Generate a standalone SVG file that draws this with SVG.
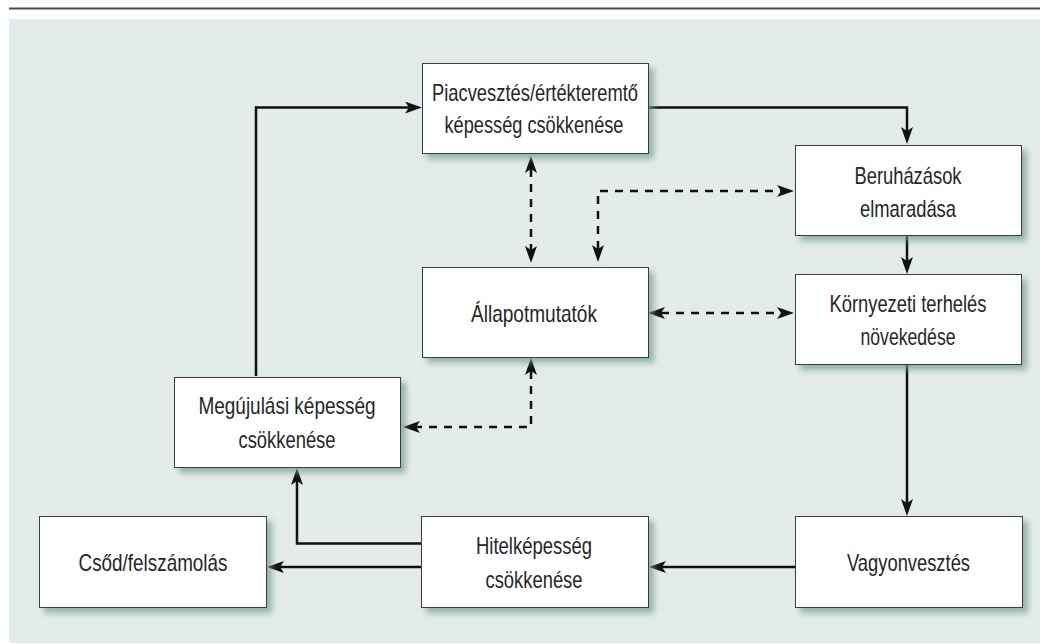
<svg xmlns="http://www.w3.org/2000/svg" width="1040" height="644" viewBox="0 0 1040 644">
  <defs>
    <style>
      .box { fill: #ffffff; stroke: #3c3c3c; stroke-width: 1; filter: url(#shadow); }
      .lbl { font-family: "Liberation Sans", Arial, sans-serif; font-size: 24px; fill: #262626; text-anchor: middle; }
      .solid { fill: none; stroke: #111111; stroke-width: 2.5; stroke-linejoin: miter; }
      .dash { fill: none; stroke: #111111; stroke-width: 2.5; stroke-dasharray: 8 7; stroke-linejoin: miter; }
    </style>
    <filter id="shadow" x="-10%" y="-15%" width="130%" height="150%">
      <feGaussianBlur in="SourceAlpha" stdDeviation="3"/>
      <feOffset dx="5" dy="5" result="blur"/>
      <feFlood flood-color="#6f998c" flood-opacity="0.7"/>
      <feComposite in2="blur" operator="in"/>
      <feMerge>
        <feMergeNode/>
        <feMergeNode in="SourceGraphic"/>
      </feMerge>
    </filter>
    <!-- swept-back arrowhead; the line ends at the notch, the tip lies 13px further on -->
    <marker id="arrow" viewBox="0 0 17 12" refX="4" refY="6" markerWidth="17" markerHeight="12" markerUnits="userSpaceOnUse" orient="auto-start-reverse">
      <path d="M0,0 L17,6 L0,12 L4,6 Z" fill="#111111"/>
    </marker>
  </defs>

  <!-- page rule and panel -->
  <rect x="9" y="7.5" width="1031" height="2" fill="#4d4d4d"/>
  <rect x="9" y="19" width="1031" height="624" fill="#e4ece8"/>

  <!-- connectors -->
  <g id="connectors">
    <path class="solid" d="M256,376 V107.5 H409" marker-end="url(#arrow)"/>
    <path class="solid" d="M648,107.5 H907 V131" marker-end="url(#arrow)"/>
    <path class="solid" d="M907,235 V261" marker-end="url(#arrow)"/>
    <path class="solid" d="M907,364 V503" marker-end="url(#arrow)"/>
    <path class="solid" d="M795,567 H662" marker-end="url(#arrow)"/>
    <path class="solid" d="M421,567 H280" marker-end="url(#arrow)"/>
    <path class="solid" d="M421,543.5 H297 V481" marker-end="url(#arrow)"/>

    <path class="dash" d="M531,169 V250" marker-start="url(#arrow)" marker-end="url(#arrow)"/>
    <path class="dash" d="M598,249 V191 H781" marker-start="url(#arrow)" marker-end="url(#arrow)"/>
    <path class="dash" d="M661,313 H781" marker-start="url(#arrow)" marker-end="url(#arrow)"/>
    <path class="dash" d="M531,371 V427 H416" marker-start="url(#arrow)" marker-end="url(#arrow)"/>
  </g>

  <!-- nodes -->
  <g id="piacvesztes">
    <rect class="box" x="422.5" y="63.5" width="226" height="90"/>
    <text class="lbl" x="535" y="101" textLength="206" lengthAdjust="spacingAndGlyphs">Piacvesztés/értékteremtő</text>
    <text class="lbl" x="534" y="133" textLength="179" lengthAdjust="spacingAndGlyphs">képesség csökkenése</text>
  </g>

  <g id="beruhazasok">
    <rect class="box" x="795.5" y="145.5" width="226" height="90"/>
    <text class="lbl" x="908" y="184" textLength="107" lengthAdjust="spacingAndGlyphs">Beruházások</text>
    <text class="lbl" x="908" y="217" textLength="96" lengthAdjust="spacingAndGlyphs">elmaradása</text>
  </g>

  <g id="allapotmutatok">
    <rect class="box" x="422.5" y="267.5" width="226" height="90"/>
    <text class="lbl" x="534" y="322" textLength="126" lengthAdjust="spacingAndGlyphs">Állapotmutatók</text>
  </g>

  <g id="kornyezeti">
    <rect class="box" x="795.5" y="274.5" width="226" height="90"/>
    <text class="lbl" x="908" y="312" textLength="157" lengthAdjust="spacingAndGlyphs">Környezeti terhelés</text>
    <text class="lbl" x="908" y="345" textLength="95" lengthAdjust="spacingAndGlyphs">növekedése</text>
  </g>

  <g id="megujulasi">
    <rect class="box" x="174.5" y="377.5" width="226" height="90"/>
    <text class="lbl" x="287" y="414" textLength="177" lengthAdjust="spacingAndGlyphs">Megújulási képesség</text>
    <text class="lbl" x="287" y="448" textLength="97" lengthAdjust="spacingAndGlyphs">csökkenése</text>
  </g>

  <g id="csod">
    <rect class="box" x="39.5" y="516.5" width="227" height="91"/>
    <text class="lbl" x="153" y="571" textLength="149" lengthAdjust="spacingAndGlyphs">Csőd/felszámolás</text>
  </g>

  <g id="hitelkepesseg">
    <rect class="box" x="421.5" y="516.5" width="227" height="91"/>
    <text class="lbl" x="534" y="554" textLength="116" lengthAdjust="spacingAndGlyphs">Hitelképesség</text>
    <text class="lbl" x="534" y="588" textLength="97" lengthAdjust="spacingAndGlyphs">csökkenése</text>
  </g>

  <g id="vagyonvesztes">
    <rect class="box" x="795.5" y="516.5" width="227" height="91"/>
    <text class="lbl" x="908.5" y="571" textLength="123" lengthAdjust="spacingAndGlyphs">Vagyonvesztés</text>
  </g>
</svg>
